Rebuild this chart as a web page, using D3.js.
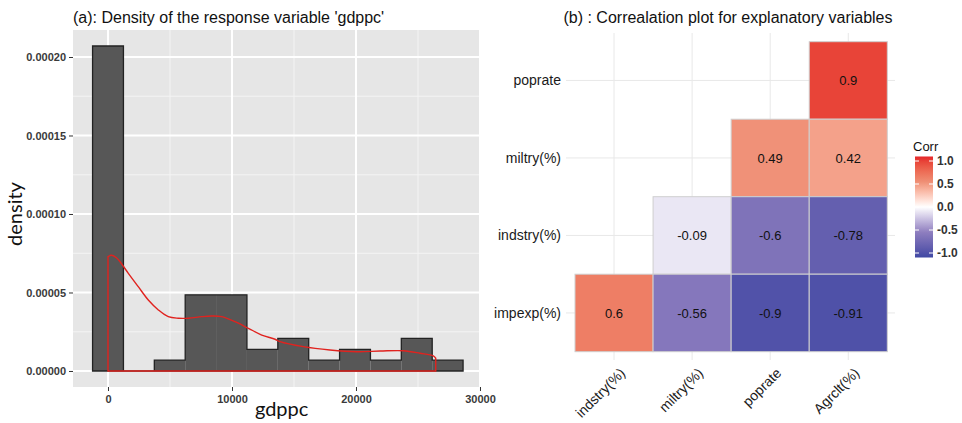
<!DOCTYPE html>
<html>
<head>
<meta charset="utf-8">
<script src="https://cdn.jsdelivr.net/npm/d3@7"></script>
<style>
  html, body { margin: 0; padding: 0; background: #ffffff; }
  svg { display: block; }
  text { font-family: "Liberation Sans", Arial, sans-serif; }
</style>
</head>
<body>
<svg id="chart" width="962" height="423"></svg>
<script>
// ---- (a) histogram of gdppc with density outline ----
const binEdges = [-1245, 1245, 3735, 6225, 8715, 11205, 13695, 16185, 18675, 21165, 23655, 26145, 28635];
const binDensity = [0.000207, 0, 0.0000069, 0.0000485, 0.0000485, 0.0000138, 0.0000208, 0.0000069, 0.0000138, 0.0000069, 0.0000208, 0.0000069];

const kdeX = [0, 300, 700, 970, 1640, 2440, 3250, 4060, 4860, 5670, 6480, 7560, 8360, 9170, 10240, 11320, 12400, 13470, 13870, 15750, 17900, 20060, 21940, 23820, 25160, 26230, 26430];
const kdeY = [0.0000728, 0.0000737, 0.0000720, 0.0000696, 0.0000622, 0.0000537, 0.0000452, 0.0000389, 0.0000346, 0.0000336, 0.0000336, 0.0000346, 0.0000350, 0.0000346, 0.0000314, 0.0000272, 0.0000229, 0.0000202, 0.0000187, 0.0000155, 0.0000134, 0.0000123, 0.0000127, 0.0000129, 0.0000113, 0.0000096, 0.0000081];

const xTicks = [0, 10000, 20000, 30000];
const xMinor = [5000, 15000, 25000];
const yTicks = [0, 0.00005, 0.0001, 0.00015, 0.0002];
const yMinor = [0.000025, 0.000075, 0.000125, 0.000175];
const yTickLabels = ["0.00000", "0.00005", "0.00010", "0.00015", "0.00020"];

// ---- (b) correlation matrix (upper rows first) ----
const colVars = ["indstry(%)", "miltry(%)", "poprate", "Agrclt(%)"];
const rowVars = ["poprate", "miltry(%)", "indstry(%)", "impexp(%)"];
const corrRows = [
  [null, null, null, 0.9],
  [null, null, 0.49, 0.42],
  [null, -0.09, -0.6, -0.78],
  [0.6, -0.56, -0.9, -0.91]
];
const legendTicks = [1.0, 0.5, 0.0, -0.5, -1.0];
const legendStops = [-1, -0.5, 0, 0.5, 1];
const legendColors = ["#3f48a3", "#8e7ebf", "#ffffff", "#ef8f75", "#e5262a"];

const svg = d3.select("#chart");

// ===== panel (a) =====
const px0 = 73, px1 = 481, py0 = 30, py1 = 387;
const x = d3.scaleLinear().domain([-2823, 30081]).range([px0, px1]);
const y = d3.scaleLinear().domain([-0.0000102, 0.0002172]).range([py1, py0]);

const gA = svg.append("g");
gA.append("rect").attr("x", px0).attr("y", py0).attr("width", px1 - px0).attr("height", py1 - py0).attr("fill", "#e6e6e6");

gA.selectAll("line.ymin").data(yMinor).join("line")
  .attr("x1", px0).attr("x2", px1).attr("y1", d => y(d)).attr("y2", d => y(d))
  .attr("stroke", "#f4f4f4").attr("stroke-width", 1);
gA.selectAll("line.xmin").data(xMinor).join("line")
  .attr("y1", py0).attr("y2", py1).attr("x1", d => x(d)).attr("x2", d => x(d))
  .attr("stroke", "#f4f4f4").attr("stroke-width", 1);
gA.selectAll("line.ymaj").data(yTicks).join("line")
  .attr("x1", px0).attr("x2", px1).attr("y1", d => y(d)).attr("y2", d => y(d))
  .attr("stroke", "#ffffff").attr("stroke-width", 2);
gA.selectAll("line.xmaj").data(xTicks).join("line")
  .attr("y1", py0).attr("y2", py1).attr("x1", d => x(d)).attr("x2", d => x(d))
  .attr("stroke", "#ffffff").attr("stroke-width", 2);

const bins = binDensity.map((d, i) => ({ x0: binEdges[i], x1: binEdges[i + 1], d }));
gA.selectAll("rect.bar").data(bins.filter(b => b.d > 0)).join("rect")
  .attr("x", b => x(b.x0)).attr("width", b => x(b.x1) - x(b.x0))
  .attr("y", b => y(b.d)).attr("height", b => y(0) - y(b.d))
  .attr("fill", "#575757");

// dark outline following the histogram's outer step shape
const steps = [[binEdges[0], 0]];
bins.forEach(b => { steps.push([b.x0, b.d], [b.x1, b.d]); });
steps.push([binEdges[binEdges.length - 1], 0]);
const stepLine = d3.line().x(d => x(d[0])).y(d => y(d[1]));
gA.append("path").attr("d", stepLine(steps) + "Z")
  .attr("fill", "none").attr("stroke", "#222222").attr("stroke-width", 1.3).attr("stroke-linejoin", "miter");

const kde = kdeX.map((v, i) => [v, kdeY[i]]);
const area = d3.area().x(d => x(d[0])).y0(y(0)).y1(d => y(d[1])).curve(d3.curveCatmullRom);
gA.append("path").attr("d", area(kde))
  .attr("fill", "none").attr("stroke", "#e0231f").attr("stroke-width", 1.4);

// axes
const yAxis = d3.axisLeft(y).tickValues(yTicks).tickFormat((d, i) => yTickLabels[i]).tickSize(4).tickPadding(3);
const gy = gA.append("g").attr("transform", `translate(${px0},0)`).call(yAxis);
const xAxis = d3.axisBottom(x).tickValues(xTicks).tickFormat(d3.format("d")).tickSize(4).tickPadding(4);
const gx = gA.append("g").attr("transform", `translate(0,${py1})`).call(xAxis);
[gx, gy].forEach(g => {
  g.select(".domain").remove();
  g.selectAll(".tick line").attr("stroke", "#333333");
  g.selectAll(".tick text").attr("fill", "#3a3a3a").style("font-size", "11px")
    .style("font-family", "'Liberation Sans', Arial, sans-serif").style("font-weight", "bold");
});

gA.append("text").attr("x", px0).attr("y", 23).text("(a): Density of the response variable 'gdppc'")
  .style("font-size", "16px").attr("fill", "#111");
gA.append("text").attr("transform", "translate(22,214) rotate(-90)").attr("text-anchor", "middle")
  .text("density").style("font-family", "Lato, 'Open Sans', sans-serif").style("font-size", "20px").attr("fill", "#111");
gA.append("text").attr("x", x(14000)).attr("y", 416).attr("text-anchor", "middle")
  .text("gdppc").style("font-family", "Lato, 'Open Sans', sans-serif").style("font-size", "20px").attr("fill", "#111");

// ===== panel (b) =====
const gB = svg.append("g");
const cx = d3.scaleBand().domain(colVars).range([575, 887.3]);
const ry = d3.scaleBand().domain(rowVars).range([41.7, 351.7]);
const fill = d3.scaleLinear().domain(legendStops).range(legendColors).interpolate(d3.interpolateLab);

const bx0 = 566, bx1 = 895, by0 = 33, by1 = 360;
gB.selectAll("line.vg").data(colVars).join("line")
  .attr("x1", d => cx(d) + cx.bandwidth() / 2).attr("x2", d => cx(d) + cx.bandwidth() / 2)
  .attr("y1", by0).attr("y2", by1).attr("stroke", "#e8e8e8").attr("stroke-width", 1);
gB.selectAll("line.hg").data(rowVars).join("line")
  .attr("y1", d => ry(d) + ry.bandwidth() / 2).attr("y2", d => ry(d) + ry.bandwidth() / 2)
  .attr("x1", bx0).attr("x2", bx1).attr("stroke", "#e8e8e8").attr("stroke-width", 1);

const cells = [];
corrRows.forEach((row, i) => row.forEach((v, j) => { if (v !== null) cells.push({ r: rowVars[i], c: colVars[j], v }); }));
gB.selectAll("rect.tile").data(cells).join("rect")
  .attr("x", d => cx(d.c)).attr("y", d => ry(d.r))
  .attr("width", cx.bandwidth()).attr("height", ry.bandwidth())
  .attr("fill", d => fill(d.v)).attr("stroke", "#cfcfcf").attr("stroke-width", 1);
gB.selectAll("text.val").data(cells).join("text")
  .attr("x", d => cx(d.c) + cx.bandwidth() / 2).attr("y", d => ry(d.r) + ry.bandwidth() / 2)
  .attr("text-anchor", "middle").attr("dy", "0.36em")
  .text(d => String(d.v)).style("font-size", "13px").attr("fill", "#111");

gB.selectAll("text.rl").data(rowVars).join("text")
  .attr("x", 561).attr("y", d => ry(d) + ry.bandwidth() / 2).attr("dy", "0.35em")
  .attr("text-anchor", "end").text(d => d).style("font-size", "14px").attr("fill", "#1a1a1a");
gB.selectAll("text.cl").data(colVars).join("text")
  .attr("transform", d => `translate(${cx(d) + cx.bandwidth() / 2 + 12},${374}) rotate(-45)`)
  .attr("text-anchor", "end").text(d => d).style("font-size", "14px").attr("fill", "#1a1a1a");

svg.append("text").attr("x", 728).attr("y", 23).attr("text-anchor", "middle")
  .text("(b) : Correalation plot for explanatory variables").style("font-size", "16px").attr("fill", "#111");

// legend colour bar
const lg = svg.append("g");
const ly = d3.scaleLinear().domain([1, -1]).range([161, 253]);
const grad = svg.append("defs").append("linearGradient").attr("id", "corrGrad")
  .attr("x1", 0).attr("x2", 0).attr("y1", 0).attr("y2", 1);
d3.range(0, 1.0001, 0.05).forEach(t => {
  grad.append("stop").attr("offset", t).attr("stop-color", fill(1 - 2 * t));
});
lg.append("rect").attr("x", 915).attr("y", 156.5).attr("width", 18).attr("height", 101)
  .attr("fill", "url(#corrGrad)");
lg.selectAll("line.tl").data(legendTicks).join("line")
  .attr("x1", 915).attr("x2", 919).attr("y1", d => ly(d)).attr("y2", d => ly(d))
  .attr("stroke", "#ffffff").attr("stroke-width", 1);
lg.selectAll("line.tr").data(legendTicks).join("line")
  .attr("x1", 929).attr("x2", 933).attr("y1", d => ly(d)).attr("y2", d => ly(d))
  .attr("stroke", "#ffffff").attr("stroke-width", 1);
lg.selectAll("text.lt").data(legendTicks).join("text")
  .attr("x", 937).attr("y", d => ly(d)).attr("dy", "0.35em")
  .text(d => d3.format(".1f")(d).replace("−", "-")).style("font-size", "12px").style("font-weight", "bold").attr("fill", "#333");
lg.append("text").attr("x", 913).attr("y", 151).text("Corr").style("font-size", "13px").attr("fill", "#111");
</script>
</body>
</html>
